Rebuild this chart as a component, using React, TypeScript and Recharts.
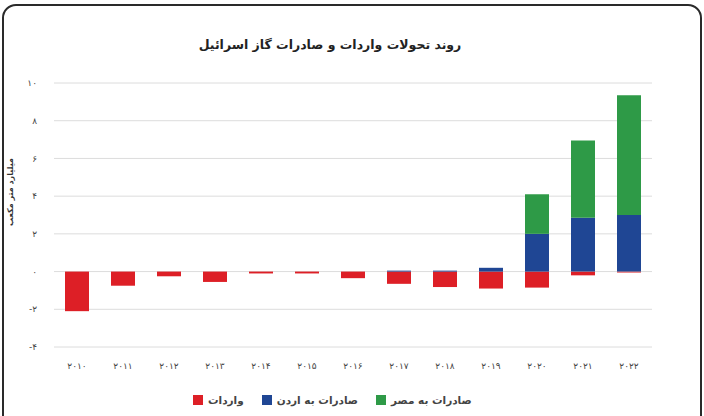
import React from 'react';
import { BarChart, Bar, XAxis, YAxis, CartesianGrid } from 'recharts';

// سال‌ها با ارقام فارسی
const years = ['۲۰۱۰', '۲۰۱۱', '۲۰۱۲', '۲۰۱۳', '۲۰۱۴', '۲۰۱۵', '۲۰۱۶', '۲۰۱۷', '۲۰۱۸', '۲۰۱۹', '۲۰۲۰', '۲۰۲۱', '۲۰۲۲'];
const imports = [-2.1, -0.75, -0.25, -0.55, -0.1, -0.1, -0.35, -0.65, -0.82, -0.9, -0.85, -0.2, -0.05];
const toJordan = [0, 0, 0, 0, 0, 0, 0, 0.05, 0.05, 0.2, 2.0, 2.85, 3.0];
const toEgypt = [0, 0, 0, 0, 0, 0, 0, 0, 0, 0, 2.1, 4.1, 6.35];
const yTicks = [-4, -2, 0, 2, 4, 6, 8, 10];

const TITLE = 'روند تحولات واردات و صادرات گاز اسرائیل';
const Y_LABEL = 'میلیارد متر مکعب';

const SERIES = [
  { key: 'imports', name: 'واردات', color: '#DD1F26' },
  { key: 'toJordan', name: 'صادرات به اردن', color: '#1F4694' },
  { key: 'toEgypt', name: 'صادرات به مصر', color: '#2E9A47' },
];

const data = years.map((year, i) => ({
  year,
  imports: imports[i],
  toJordan: toJordan[i],
  toEgypt: toEgypt[i],
}));

const faDigits = (n: number) =>
  String(n).replace(/\d/g, d => '۰۱۲۳۴۵۶۷۸۹'[Number(d)]);

const FONT = '"DejaVu Sans", "Noto Sans", sans-serif';

export default function App() {
  return (
    <div style={{ position: 'absolute', left: 0, top: 0, width: 704, height: 416, overflow: 'hidden', background: '#fff', fontFamily: FONT }}>
      <div style={{ position: 'absolute', left: 2, top: 4, width: 696, height: 440, border: '2px solid #2a2a2a', borderRadius: 14 }} />
      <div style={{ position: 'absolute', left: 0, width: 660, top: 37, textAlign: 'center', fontSize: 12.5, fontWeight: 'bold', color: '#222', direction: 'rtl' }}>
        {TITLE}
      </div>
      <div style={{ position: 'absolute', left: 11 - 60, top: 192 - 7, width: 120, height: 14, lineHeight: '14px', textAlign: 'center', transform: 'rotate(-90deg)', fontSize: 8, fontWeight: 'bold', color: '#333', whiteSpace: 'nowrap', direction: 'rtl' }}>
        {Y_LABEL}
      </div>
      <div style={{ position: 'absolute' }}>
        <BarChart width={704} height={416} data={data} stackOffset="sign" margin={{ top: 83, right: 52, bottom: 49, left: 0 }}>
          <CartesianGrid vertical={false} stroke="#dcdcdc" />
          <XAxis dataKey="year" axisLine={false} tickLine={false} tickMargin={10} interval={0}
            tick={{ fontSize: 9, fill: '#444', fontFamily: FONT }} height={20} />
          <YAxis width={54} domain={[-4, 10]} ticks={yTicks} axisLine={false} tickLine={false} tickMargin={11}
            tickFormatter={faDigits} tick={{ fontSize: 9, fill: '#444', fontFamily: FONT }} />
          {SERIES.map(s => (
            <Bar key={s.key} dataKey={s.key} name={s.name} stackId="a" fill={s.color} barSize={24} isAnimationActive={false} />
          ))}
        </BarChart>
      </div>
      <div style={{ position: 'absolute', left: 193, top: 394, display: 'flex', gap: 18, fontSize: 10.5, fontWeight: 'bold', color: '#444' }}>
        {SERIES.map(s => (
          <div key={s.key} style={{ display: 'flex', alignItems: 'center', gap: 5 }}>
            <span style={{ width: 10, height: 10, background: s.color, display: 'inline-block' }} />
            <span style={{ direction: 'rtl' }}>{s.name}</span>
          </div>
        ))}
      </div>
    </div>
  );
}
